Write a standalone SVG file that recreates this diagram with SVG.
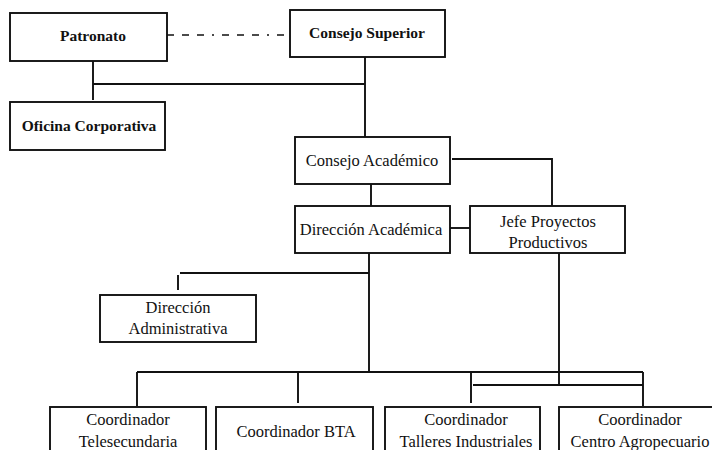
<svg xmlns="http://www.w3.org/2000/svg" width="712" height="450" viewBox="0 0 712 450">
<style>
.box{fill:#fff;stroke:#111;stroke-width:1.9}
.ln{fill:none;stroke:#111;stroke-width:1.9}
.dash{fill:none;stroke:#111;stroke-width:1.5;stroke-dasharray:7 8 7 8 7 8 2 8}
.t{font-family:"Liberation Serif","Times New Roman",serif;font-size:16.5px;fill:#111;text-anchor:middle}
.b{font-weight:bold;font-size:15.5px}
</style>
<rect width="712" height="450" fill="#fff"/>
<g id="connectors">
<path class="dash" d="M167 35 H290"/>
<path class="ln" d="M93 61 V100 M93 84 H365 M365 57 V137"/>
<path class="ln" d="M371 184 V206"/>
<path class="ln" d="M452 159 H552 V206"/>
<path class="ln" d="M450 228 H470"/>
<path class="ln" d="M369 253 V372"/>
<path class="ln" d="M180 273 H369 M178 275 V290"/>
<path class="ln" d="M559 253 V385"/>
<path class="ln" d="M137 372 H643"/>
<path class="ln" d="M473 385 H643"/>
<path class="ln" d="M137 372 V406 M298 372 V403 M471 372 V403 M643 372 V406"/>
</g>
<g id="patronato"><rect class="box" x="10" y="13" width="157" height="48"/><text class="t b" x="93" y="41">Patronato</text></g>
<g id="consejo-superior"><rect class="box" x="290" y="10" width="155" height="47"/><text class="t b" x="367" y="38">Consejo Superior</text></g>
<g id="oficina-corporativa"><rect class="box" x="10" y="102" width="155" height="48"/><text class="t b" x="89" y="131">Oficina Corporativa</text></g>
<g id="consejo-academico"><rect class="box" x="295" y="137" width="155" height="47"/><text class="t" x="372" y="166">Consejo Académico</text></g>
<g id="direccion-academica"><rect class="box" x="295" y="206" width="155" height="47"/><text class="t" x="371" y="235">Dirección Académica</text></g>
<g id="jefe-proyectos"><rect class="box" x="470" y="206" width="155" height="47"/><text class="t" x="548" y="227">Jefe Proyectos</text><text class="t" x="548" y="248">Productivos</text></g>
<g id="direccion-administrativa"><rect class="box" x="100" y="295" width="156" height="47"/><text class="t" x="178" y="313">Dirección</text><text class="t" x="178" y="334">Administrativa</text></g>
<g id="coord-telesecundaria"><rect class="box" x="50" y="407" width="156" height="60"/><text class="t" x="128" y="425">Coordinador</text><text class="t" x="128" y="447">Telesecundaria</text></g>
<g id="coord-bta"><rect class="box" x="216" y="407" width="157" height="60"/><text class="t" x="296" y="437">Coordinador BTA</text></g>
<g id="coord-talleres"><rect class="box" x="385" y="407" width="155" height="60"/><text class="t" x="466" y="425">Coordinador</text><text class="t" x="466" y="447">Talleres Industriales</text></g>
<g id="coord-centro"><rect class="box" x="559" y="407" width="160" height="60"/><text class="t" x="640" y="425">Coordinador</text><text class="t" x="640" y="447">Centro Agropecuario</text></g>
</svg>
